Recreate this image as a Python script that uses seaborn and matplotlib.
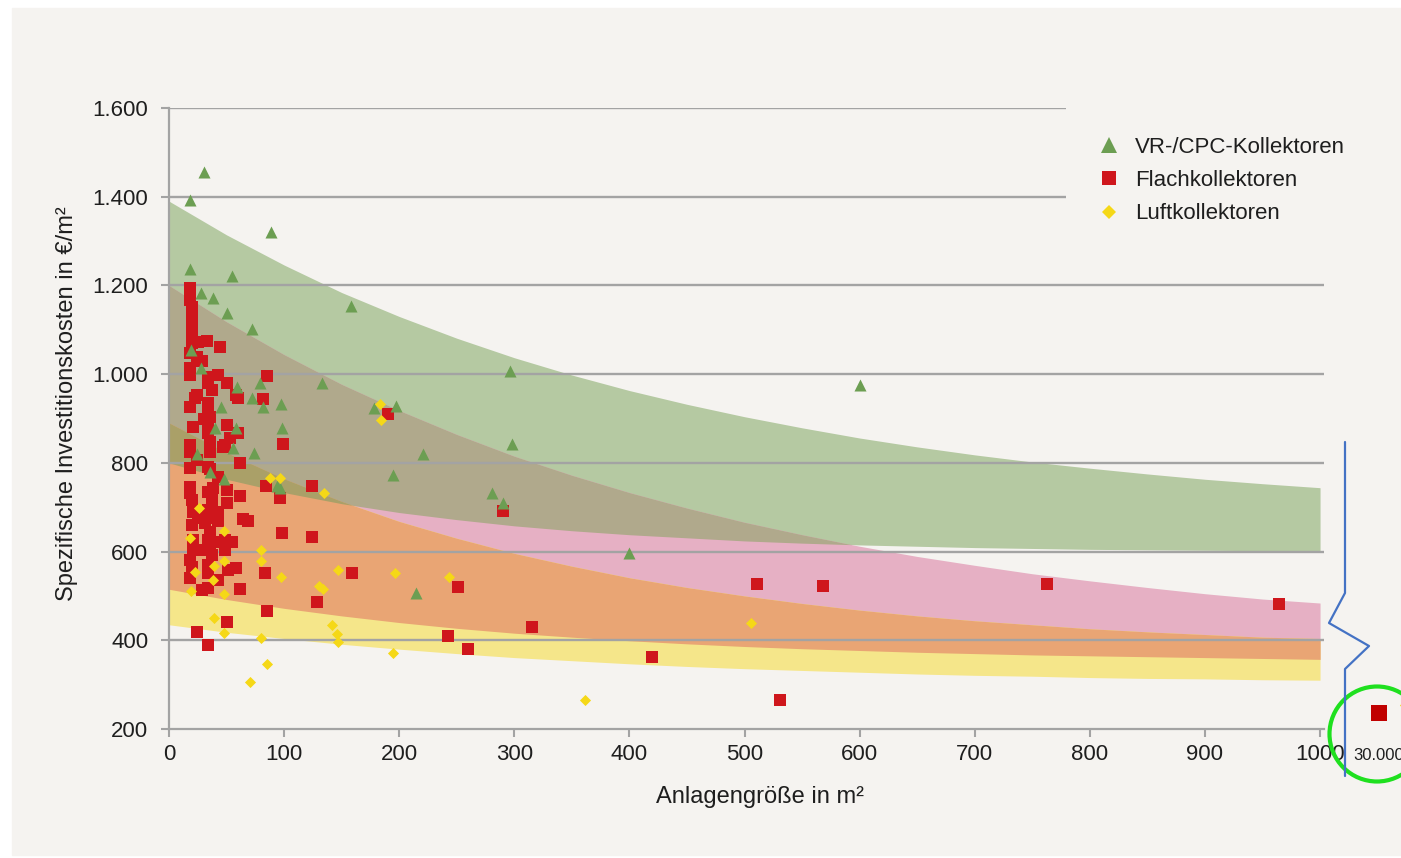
import numpy as np
import pandas as pd
import matplotlib
matplotlib.use("Agg")
import matplotlib.pyplot as plt
import seaborn as sns
from matplotlib.lines import Line2D
from matplotlib.patches import Rectangle, Ellipse
from matplotlib.transforms import blended_transform_factory

# ---------------- data ----------------
series_names = ["VR-/CPC-Kollektoren", "Flachkollektoren", "Luftkollektoren"]

vr_x = [30, 18, 89, 18, 55, 28, 38, 50, 158, 72, 19, 28, 600, 296, 133, 59, 79, 72,
        45, 82, 97, 178, 197, 298, 221, 195, 40, 58, 98, 56, 74, 24, 36, 48, 94, 96,
        281, 290, 400, 215]
vr_y = [1455, 1392, 1320, 1237, 1221, 1183, 1172, 1138, 1154, 1102, 1054, 1014, 975,
        1007, 980, 971, 980, 946, 926, 926, 932, 924, 928, 842, 820, 773, 878, 878,
        878, 833, 822, 820, 779, 764, 748, 743, 732, 709, 597, 507]

flach_x = [18, 18, 18, 20, 20, 20, 20, 20, 20, 25, 33, 44, 18, 24, 29, 18, 18, 34, 43,
           50, 85, 34, 37, 24, 23, 58, 60, 82, 18, 34, 34, 36, 30, 34, 21, 50, 34, 60,
           53, 36, 49, 18, 36, 47, 18, 24, 18, 34, 62, 36, 43, 18, 18, 34, 38, 50, 20,
           37, 62, 84, 50, 21, 34, 43, 25, 34, 43, 64, 69, 20, 31, 36, 49, 55, 44, 21,
           34, 21, 36, 30, 37, 49, 18, 20, 34, 51, 58, 34, 18, 43, 83, 34, 29, 62, 85,
           50, 24, 34, 99, 124, 96, 124, 98, 190, 290, 159, 129, 251, 315, 242, 260,
           420, 511, 568, 763, 964, 531]
flach_y = [1194, 1178, 1167, 1151, 1133, 1117, 1099, 1084, 1070, 1072, 1075, 1061, 1048,
           1039, 1030, 1014, 998, 993, 998, 980, 996, 980, 964, 953, 946, 953, 946, 944,
           926, 935, 919, 903, 899, 890, 881, 885, 867, 867, 856, 847, 840, 840, 824,
           836, 824, 806, 788, 791, 800, 786, 768, 746, 732, 734, 743, 739, 716, 716,
           725, 748, 709, 689, 694, 689, 676, 676, 669, 673, 669, 660, 664, 644, 626,
           622, 622, 626, 626, 604, 608, 604, 592, 604, 581, 565, 570, 558, 563, 552,
           540, 536, 552, 518, 513, 516, 466, 441, 419, 389, 842, 748, 721, 633, 642,
           910, 691, 552, 486, 520, 430, 410, 380, 362, 527, 522, 527, 482, 265]

luft_x = [183, 184, 88, 96, 135, 243, 196, 147, 130, 134, 97, 142, 146, 147, 195, 361,
          506, 70, 85, 80, 80, 80, 26, 48, 18, 48, 39, 23, 38, 19, 48, 39, 48]
luft_y = [933, 897, 766, 766, 732, 543, 552, 558, 522, 516, 543, 434, 414, 396, 371,
          265, 439, 306, 347, 406, 604, 579, 698, 646, 630, 579, 567, 554, 536, 511,
          504, 450, 417]

# cost corridors (every 50 m²)
band_x = [0, 50, 100, 150, 200, 250, 300, 350, 400, 450, 500,
          550, 600, 650, 700, 750, 800, 850, 900, 950, 1000]
vr_upper = [1390, 1314, 1246, 1184, 1130, 1081, 1037, 998, 963, 932, 904,
            879, 856, 836, 818, 802, 788, 775, 763, 753, 744]
vr_lower = [800, 763, 733, 708, 688, 672, 658, 647, 638, 631, 624,
            619, 615, 612, 609, 607, 605, 604, 603, 602, 601]
flach_upper = [1200, 1118, 1044, 977, 918, 864, 815, 772, 733, 698, 666,
               638, 612, 589, 569, 550, 534, 519, 505, 493, 484]
flach_lower = [515, 492, 472, 455, 440, 427, 416, 407, 399, 392, 386,
               381, 377, 373, 370, 367, 365, 363, 361, 359, 357]
luft_upper = [890, 823, 764, 713, 668, 630, 596, 567, 541, 519, 500,
              483, 468, 455, 444, 435, 426, 419, 413, 407, 404]
luft_lower = [435, 418, 404, 391, 380, 370, 361, 354, 347, 341, 336,
              332, 328, 324, 321, 319, 316, 314, 313, 311, 310]

outlier_label = "30.000"
outlier_flach_y = [236]
outlier_luft_y = [254]

x_ticks = [0, 100, 200, 300, 400, 500, 600, 700, 800, 900, 1000]
x_tick_labels = ["0", "100", "200", "300", "400", "500", "600", "700", "800", "900", "1000"]
y_ticks = [200, 400, 600, 800, 1000, 1200, 1400, 1600]
y_tick_labels = ["200", "400", "600", "800", "1.000", "1.200", "1.400", "1.600"]

x_label = "Anlagengröße in m²"
y_label = "Spezifische Investitionskosten in €/m²"

# ---------------- style ----------------
sns.set_theme(style="ticks")
plt.rcParams["font.family"] = ["Liberation Sans", "DejaVu Sans"]
LABEL_FONT = ["Liberation Sans", "DejaVu Sans"]

BG = "#f5f3f0"
GRID = "#a3a3a3"
C_GREEN = "#b5c9a2"
C_PINK = "#e6b0c4"
C_YELLOW = "#f5e68a"
C_BROWN = "#b0a98c"
C_ORANGE = "#e9a574"
C_OLIVE = "#aaa068"
M_GREEN = "#6c9e52"
M_RED = "#cf161c"
M_YELLOW = "#f5d817"

W, H = 1401, 858
fig = plt.figure(figsize=(W / 100, H / 100), dpi=100)
fig.patch.set_facecolor("white")
fig.patches.append(Rectangle((12 / W, 1 - 855 / H), (W - 12) / W, (855 - 8) / H,
                             transform=fig.transFigure, color=BG, zorder=-10))

ax = fig.add_axes([169 / W, 1 - 729 / H, 1154.5 / W, 621 / H])
ax.patch.set_alpha(0)

bx = np.array(band_x, float)
gu, gl = np.array(vr_upper, float), np.array(vr_lower, float)
pu, pl = np.array(flach_upper, float), np.array(flach_lower, float)
yu, yl = np.array(luft_upper, float), np.array(luft_lower, float)

def band(lo, hi, color):
    ax.fill_between(bx, lo, hi, where=hi > lo, interpolate=True,
                    color=color, lw=0, zorder=1)

band(gl, gu, C_GREEN)
band(pl, pu, C_PINK)
band(yl, yu, C_YELLOW)
band(np.maximum(gl, pl), np.minimum(gu, pu), C_BROWN)
band(np.maximum(pl, yl), np.minimum(pu, yu), C_ORANGE)
band(np.maximum.reduce([gl, pl, yl]), np.minimum.reduce([gu, pu, yu]), C_OLIVE)

# gridlines
for yv in y_ticks[1:]:
    xend = 779 if yv >= 1400 else 1003
    ax.hlines(yv, 0, xend, color=GRID, lw=1.7, zorder=2)

df_vr = pd.DataFrame({"x": vr_x, "y": vr_y})
df_fl = pd.DataFrame({"x": flach_x, "y": flach_y})
df_lu = pd.DataFrame({"x": luft_x, "y": luft_y})

sns.scatterplot(data=df_fl, x="x", y="y", marker="s", s=85, color=M_RED,
                linewidth=0, ax=ax, zorder=4, legend=False)
sns.scatterplot(data=df_vr, x="x", y="y", marker="^", s=75, color=M_GREEN,
                linewidth=0, ax=ax, zorder=5, legend=False)
sns.scatterplot(data=df_lu, x="x", y="y", marker="D", s=32, color=M_YELLOW,
                linewidth=0, ax=ax, zorder=6, legend=False)

ax.set_xlim(0, 1003)
ax.set_ylim(200, 1600)
ax.set_xticks(x_ticks)
ax.set_xticklabels(x_tick_labels)
ax.set_yticks(y_ticks)
ax.set_yticklabels(y_tick_labels)
ax.tick_params(axis="both", colors=GRID, labelcolor="#1e1e1e", labelsize=16,
               length=6, width=1.5, direction="out")
ax.tick_params(axis="y", pad=9)
ax.tick_params(axis="x", pad=5)
for s in ["top", "right"]:
    ax.spines[s].set_visible(False)
for s in ["left", "bottom"]:
    ax.spines[s].set_color(GRID)
    ax.spines[s].set_linewidth(1.6)

ax.set_xlabel(x_label, fontsize=17, family=LABEL_FONT, color="#1e1e1e")
ax.set_ylabel(y_label, fontsize=17, family=LABEL_FONT, color="#1e1e1e")
ax.xaxis.set_label_coords((760 - 169) / 1154.5, -(797 - 729) / 621)
ax.xaxis.label.set_va("center")
ax.yaxis.set_label_coords((67 - 169) / 1154.5, (729 - 404) / 621)
ax.yaxis.label.set_va("center")

handles = [
    Line2D([], [], ls="", marker="^", color=M_GREEN, markersize=11, mew=0),
    Line2D([], [], ls="", marker="s", color=M_RED, markersize=10, mew=0),
    Line2D([], [], ls="", marker="D", color=M_YELLOW, markersize=7, mew=0),
]
leg = ax.legend(handles, series_names, loc="upper left", frameon=False,
                bbox_to_anchor=(1097 / W, 1 - 137 / H), bbox_transform=fig.transFigure,
                prop={"family": LABEL_FONT, "size": 16}, handlelength=1.1,
                handletextpad=0.6, labelspacing=0.55, borderpad=0, borderaxespad=0)
for t in leg.get_texts():
    t.set_color("#1e1e1e")

# ---- broken-axis annotation on the right ----
def fx(px):
    return px / W

def fy(py):
    return 1 - py / H

zig_px = [1345, 1345, 1329, 1369, 1345, 1345]
zig_py = [442, 593, 623, 646, 669, 776]
fig.add_artist(Line2D([fx(p) for p in zig_px], [fy(p) for p in zig_py],
                      transform=fig.transFigure, color="#4472c4", lw=1.6))

tr = blended_transform_factory(fig.transFigure, ax.transData)
ax.scatter([fx(1379)], outlier_flach_y, transform=tr, marker="s", s=140,
           color="#c00000", linewidths=0, clip_on=False, zorder=7)
ax.scatter([fx(1405)], outlier_luft_y, transform=tr, marker="D", s=32,
           color=M_YELLOW, linewidths=0, clip_on=False, zorder=7)
fig.text(fx(1353), fy(756), outlier_label, fontsize=12, color="#1e1e1e",
         ha="left", va="center")
fig.add_artist(Ellipse((fx(1377), fy(734)), 95 / W, 95 / H, transform=fig.transFigure,
                       fill=False, edgecolor="#1fe01f", lw=3))

fig.savefig("out.png", dpi=100, facecolor=fig.get_facecolor())
